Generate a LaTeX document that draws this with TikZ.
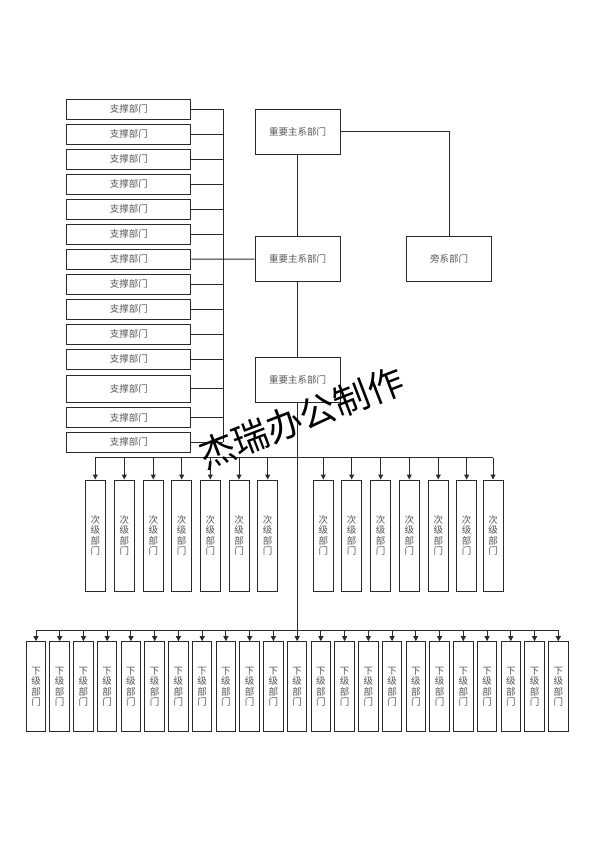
\documentclass[tikz,border=0pt]{standalone}
\usepackage{fontspec}
\newfontfamily\cjk{Noto Sans CJK SC}
\usetikzlibrary{arrows.meta}
\definecolor{ln}{HTML}{2A2A2A}
\definecolor{tx}{HTML}{555555}
\tikzset{
  box/.style={draw=ln, line width=1pt, inner sep=0pt, text=tx, font=\cjk\fontsize{9.5}{10}\selectfont},
  sbox/.style={box, minimum width=124pt, minimum height=20pt},
  mbox/.style={box, minimum width=85pt, minimum height=45pt},
  cbox/.style={box, minimum width=20pt, minimum height=111pt, align=center, font=\cjk\fontsize{9.5}{10.5}\selectfont},
  dbox/.style={box, minimum width=19.5pt, minimum height=90pt, align=center, font=\cjk\fontsize{9.5}{10.5}\selectfont},
  conn/.style={draw=ln, line width=1pt},
  arr/.style={conn, -{Triangle[length=5pt,width=5pt]}},
}
\begin{document}
\begin{tikzpicture}[x=1pt,y=-1pt]
\useasboundingbox (0,0) rectangle (594,841);
% support boxes
\foreach \i [count=\k from 0] in {1,...,11} {
  \node[sbox] (s\i) at (128.85,{109+25*\k}) {支撑部门};
}
\node[sbox, minimum height=27pt] (s12) at (128.85,388.5) {支撑部门};
\node[sbox] (s13) at (128.85,417.5) {支撑部门};
\node[sbox] (s14) at (128.85,442.3) {支撑部门};
\coordinate (busT) at (223,109);
\coordinate (busB) at (223,442.3);
\draw[conn] (busT) -- (busB);
\foreach \i in {1,...,6,8,9,10,11,12,13,14} {
  \draw[conn] (s\i.east) -- (s\i.east -| busT);
}
% main boxes
\node[mbox] (m1) at (297.5,131.5) {重要主系部门};
\node[mbox] (m2) at (297.5,259.2) {重要主系部门};
\node[mbox] (m3) at (297.5,379.7) {重要主系部门};
\node[mbox] (side) at (449,259.2) {旁系部门};
\draw[conn] (s7.east) -- (m2.west);
\draw[conn] (m1.south) -- (m2.north);
\draw[conn] (m2.south) -- (m3.north);
\draw[conn] (m1.east) -| (side.north);
\coordinate (bot) at (297.5,630);
\draw[conn] (m3.south) -- (bot);
% second level
\foreach \x [count=\i] in {95.3,124.3,153.3,181.7,210.3,239,267.7,323.3,351.7,380.7,409.3,438.3,466.7,493} {
  \node[cbox] (c\i) at (\x,535.5) {次\\级\\部\\门};
}
\coordinate (b2L) at (95.3,457.5);
\coordinate (b2R) at (493,457.5);
\draw[conn] (b2L) -- (b2R);
\foreach \i in {1,...,14} {
  \draw[arr] (c\i.north |- b2L) -- (c\i.north);
}
% bottom level
\foreach \k [count=\i] in {0,...,22} {
  \node[dbox] (d\i) at ({36+23.74*\k},686.7) {下\\级\\部\\门};
}
\coordinate (b3L) at (36,630);
\coordinate (b3R) at (558,630);
\draw[conn] (b3L) -- (b3R);
\foreach \i in {1,...,23} {
  \draw[arr] (d\i.north |- b3L) -- (d\i.north);
}
% watermark
\node[rotate=21, inner sep=0pt, font=\cjk\fontsize{36}{36}\selectfont] (wm) at (301,418) {杰瑞办公制作};
\end{tikzpicture}
\end{document}
